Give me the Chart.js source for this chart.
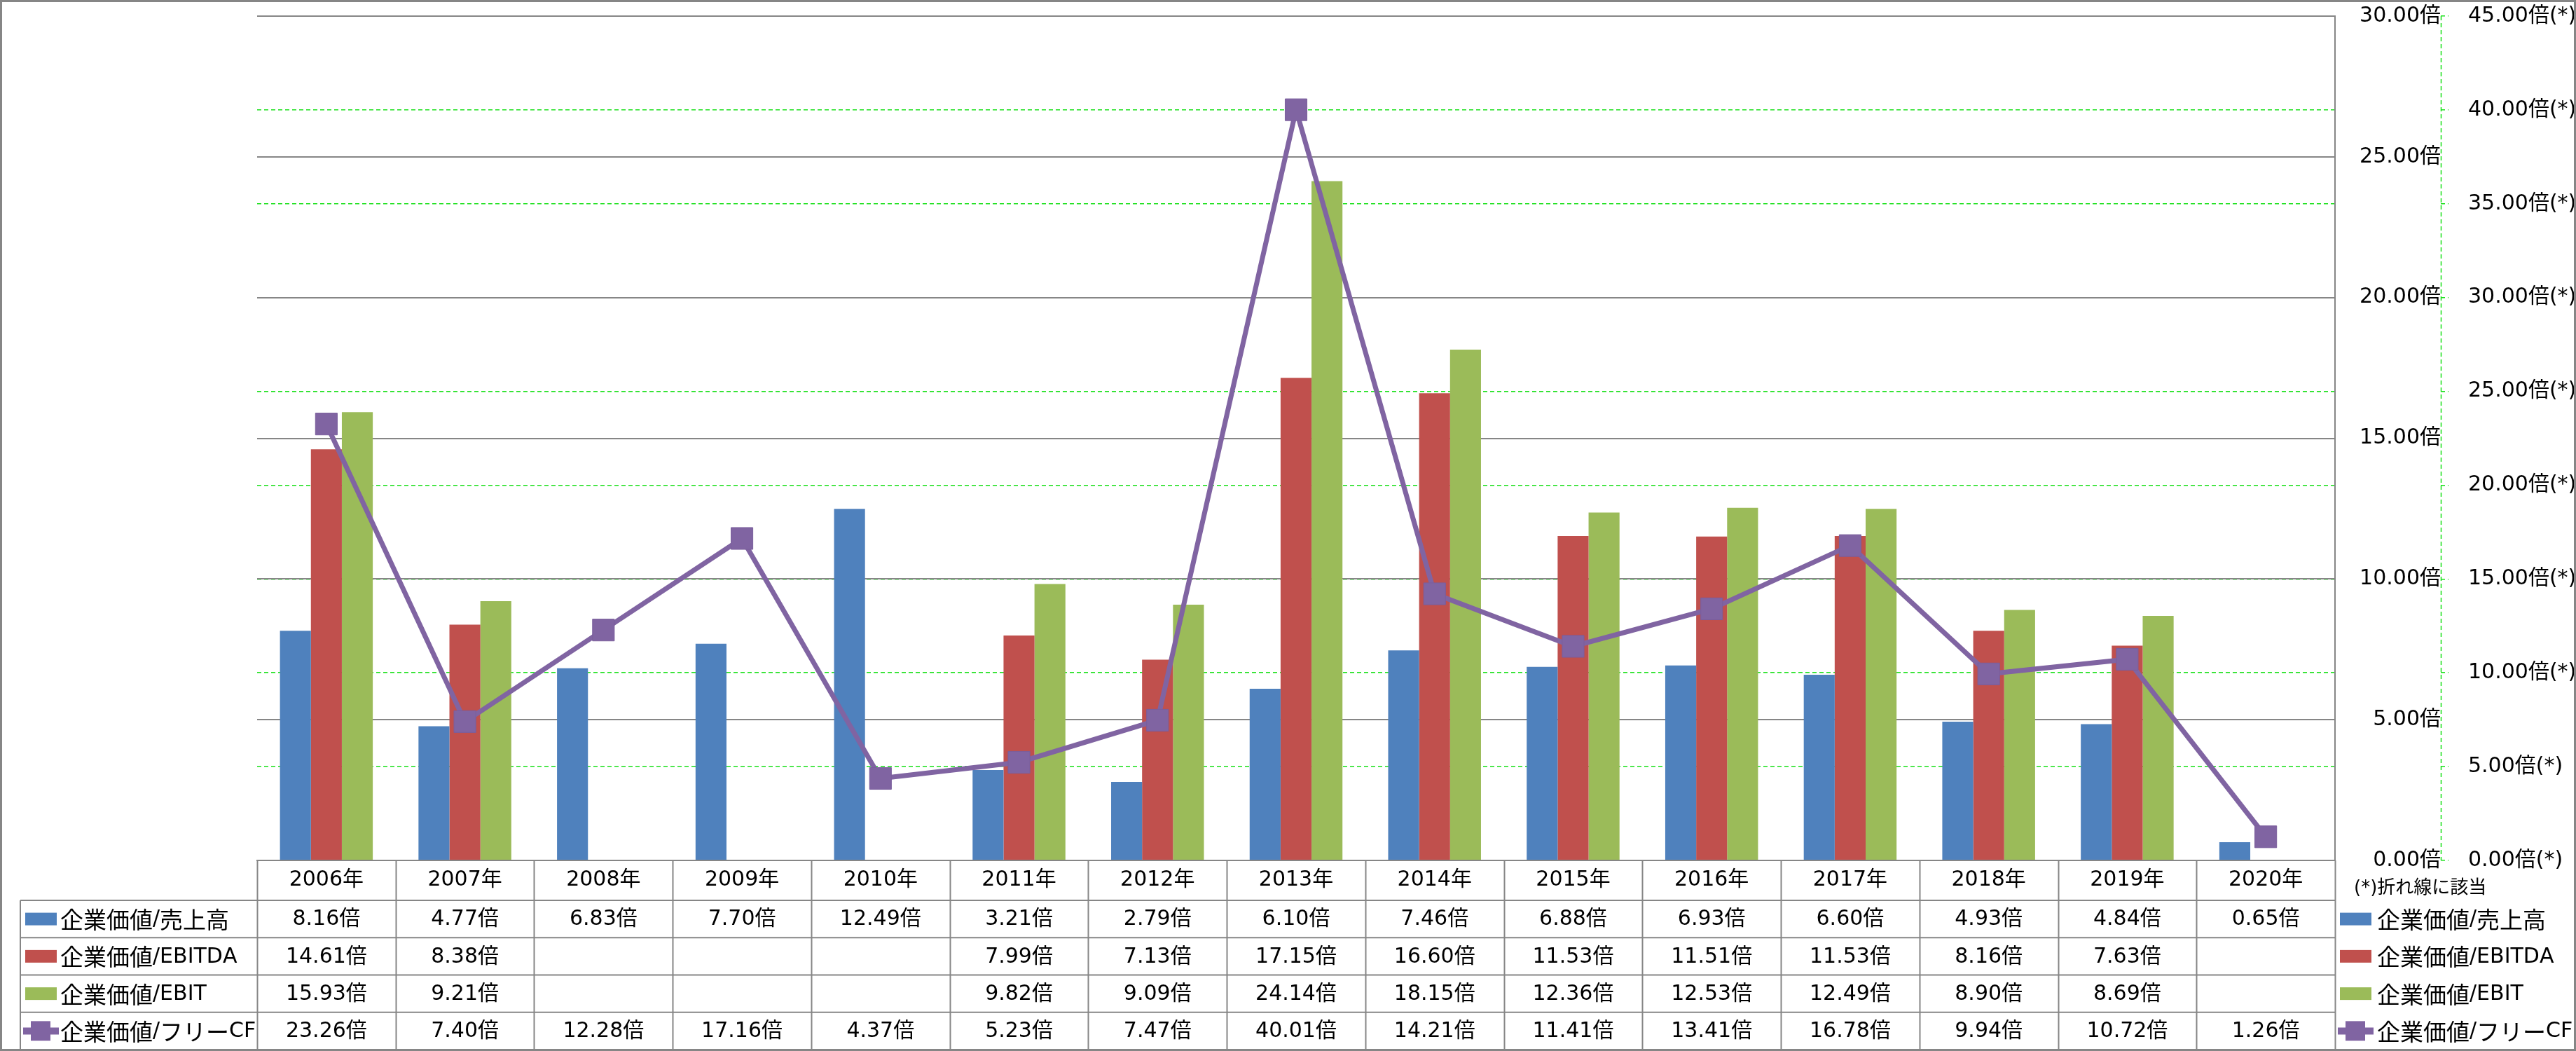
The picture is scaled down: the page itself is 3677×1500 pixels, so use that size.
<!DOCTYPE html>
<html>
<head>
<meta charset="utf-8">
<script src="https://cdn.jsdelivr.net/npm/chart.js@4"></script>
<style>
  html, body { margin: 0; padding: 0; background: #fff; }
  canvas { display: block; }
</style>
</head>
<body>
<canvas id="chart" width="3677" height="1500"></canvas>
<script>
const years = ['2006年', '2007年', '2008年', '2009年', '2010年', '2011年', '2012年', '2013年',
  '2014年', '2015年', '2016年', '2017年', '2018年', '2019年', '2020年'];
const seriesNames = ['企業価値/売上高', '企業価値/EBITDA', '企業価値/EBIT', '企業価値/フリーCF'];
const evSales  = [8.16, 4.77, 6.83, 7.70, 12.49, 3.21, 2.79, 6.10, 7.46, 6.88, 6.93, 6.60, 4.93, 4.84, 0.65];
const evEbitda = [14.61, 8.38, null, null, null, 7.99, 7.13, 17.15, 16.60, 11.53, 11.51, 11.53, 8.16, 7.63, null];
const evEbit   = [15.93, 9.21, null, null, null, 9.82, 9.09, 24.14, 18.15, 12.36, 12.53, 12.49, 8.90, 8.69, null];
const evFcf    = [23.26, 7.40, 12.28, 17.16, 4.37, 5.23, 7.47, 40.01, 14.21, 11.41, 13.41, 16.78, 9.94, 10.72, 1.26];
const noteText = '(*)折れ線に該当';

const colors = ['#4F81BD', '#C0504D', '#9BBB59', '#8064A2'];
const GRAY = '#868686';
const GREEN = '#19e019';
const FONT = "'DejaVu Sans', 'Noto Sans CJK JP', sans-serif";
const CJK_FONT = "33px 'Noto Sans CJK JP', sans-serif";

Chart.defaults.font.family = FONT;
Chart.defaults.font.size = 30;
Chart.defaults.color = '#000';

// legend names: CJK glyphs are drawn a bit larger than the latin part
function drawLabel(ctx, text, x, y) {
  let cx = x;
  for (const ch of text) {
    ctx.font = ch.charCodeAt(0) > 0x2e80 ? CJK_FONT : '30px ' + FONT;
    ctx.fillText(ch, cx, y);
    cx += ctx.measureText(ch).width;
  }
}

function drawKey(ctx, i, x, y) {
  if (i < 3) {
    ctx.fillStyle = colors[i];
    ctx.fillRect(x, y - 9, 45, 18);
    return;
  }
  ctx.strokeStyle = colors[3];
  ctx.lineWidth = 10;
  ctx.setLineDash([]);
  ctx.beginPath();
  ctx.moveTo(x - 3, y);
  ctx.lineTo(x + 48, y);
  ctx.stroke();
  ctx.fillStyle = colors[3];
  ctx.fillRect(x + 8, y - 14, 28, 28);
}

function hline(ctx, x1, x2, y) {
  ctx.beginPath(); ctx.moveTo(x1, y); ctx.lineTo(x2, y); ctx.stroke();
}
function vline(ctx, x, y1, y2) {
  ctx.beginPath(); ctx.moveTo(x, y1); ctx.lineTo(x, y2); ctx.stroke();
}

// keep the tick labels from pushing the plot area down
function noPad(s) {
  s.paddingTop = 0;
  s.paddingBottom = 0;
}

const tablePlugin = {
  id: 'table',
  beforeDraw(chart) {
    const ctx = chart.ctx;
    ctx.save();
    ctx.fillStyle = '#fff';
    ctx.fillRect(0, 0, chart.width, chart.height);
    ctx.restore();
  },
  afterDraw(chart) {
    const { ctx, scales: { x, y2 } } = chart;
    const rows = [evSales, evEbitda, evEbit, evFcf];
    const top = x.top;
    const bottom = chart.height - 2;
    const headH = 57;
    const rowH = (bottom - top - headH) / rows.length;
    const colW = x.width / years.length;
    const tableLeft = 29;

    ctx.save();
    ctx.strokeStyle = GRAY;
    ctx.lineWidth = 2;
    for (let i = 0; i <= years.length; i++) {
      const px = Math.round(x.left + i * colW) + 0.5;
      vline(ctx, px, top, bottom);
    }
    for (let r = 0; r < rows.length; r++) {
      hline(ctx, tableLeft, x.right, top + headH + r * rowH);
    }
    vline(ctx, tableLeft, top + headH, bottom);

    ctx.textBaseline = 'middle';
    rows.forEach((vals, r) => {
      const cy = top + headH + (r + 0.5) * rowH;
      ctx.font = '30px ' + FONT;
      ctx.fillStyle = '#000';
      ctx.textAlign = 'center';
      vals.forEach((v, i) => {
        if (v !== null) ctx.fillText(v.toFixed(2) + '倍', x.getPixelForValue(i), cy + 1);
      });
      drawKey(ctx, r, 36, cy);
      drawKey(ctx, r, 3340, cy);
      ctx.fillStyle = '#000';
      ctx.textAlign = 'left';
      drawLabel(ctx, seriesNames[r], 86, cy + 1);
      drawLabel(ctx, seriesNames[r], 3393, cy + 1);
    });

    ctx.font = '26px ' + FONT;
    ctx.textAlign = 'left';
    ctx.fillStyle = '#000';
    ctx.fillText(noteText, 3360, top + 40);

    // secondary axis line is dashed
    ctx.strokeStyle = GREEN;
    ctx.lineWidth = 1.5;
    ctx.setLineDash([6, 4]);
    vline(ctx, y2.left + 0.5, y2.top, y2.bottom);

    ctx.setLineDash([]);
    ctx.strokeStyle = GRAY;
    ctx.lineWidth = 3;
    ctx.strokeRect(1.5, 1.5, chart.width - 3, chart.height - 3);
    ctx.restore();
  }
};

const barSet = (i, data) => ({
  type: 'bar',
  label: seriesNames[i],
  data,
  backgroundColor: colors[i],
  borderWidth: 0,
  yAxisID: 'y',
  order: 1,
  categoryPercentage: 0.67,
  barPercentage: 1.0
});

new Chart(document.getElementById('chart'), {
  data: {
    labels: years,
    datasets: [
      {
        type: 'line',
        label: seriesNames[3],
        data: evFcf,
        borderColor: colors[3],
        backgroundColor: colors[3],
        borderWidth: 7,
        tension: 0,
        pointStyle: 'rect',
        pointRadius: 22,
        pointBorderWidth: 1,
        pointBorderColor: '#7A5E9C',
        pointBackgroundColor: colors[3],
        yAxisID: 'y2',
        order: 0
      },
      barSet(0, evSales),
      barSet(1, evEbitda),
      barSet(2, evEbit)
    ]
  },
  options: {
    responsive: false,
    animation: false,
    layout: { padding: { left: 367, top: 23, right: 0, bottom: 0 } },
    plugins: {
      legend: { display: false },
      tooltip: { enabled: false }
    },
    scales: {
      x: {
        grid: { display: false, drawTicks: false },
        border: { display: true, color: GRAY, width: 2 },
        ticks: { padding: 10, maxRotation: 0, autoSkip: false, color: '#000' },
        afterFit: s => { s.height = 272; }
      },
      y: {
        position: 'right',
        min: 0,
        max: 30,
        grid: { color: GRAY, lineWidth: 2, drawTicks: false, z: -1 },
        border: { display: true, color: GRAY, width: 2 },
        ticks: {
          stepSize: 5,
          padding: 31,
          crossAlign: 'far',
          callback: v => v.toFixed(2) + '倍'
        },
        afterFit: s => { s.width = 151; noPad(s); }
      },
      y2: {
        position: 'right',
        min: 0,
        max: 45,
        grid: {
          color: GREEN,
          lineWidth: 1.5,
          drawTicks: true,
          tickLength: 11,
          tickColor: GREEN,
          tickWidth: 1.5,
          tickBorderDash: [6, 4],
          z: -2
        },
        border: { display: false, dash: [6, 4] },
        ticks: {
          stepSize: 5,
          padding: 28,
          crossAlign: 'near',
          callback: v => v.toFixed(2) + '倍(*)'
        },
        afterFit: s => { s.width = 193; noPad(s); }
      }
    }
  },
  plugins: [tablePlugin]
});
</script>
</body>
</html>
